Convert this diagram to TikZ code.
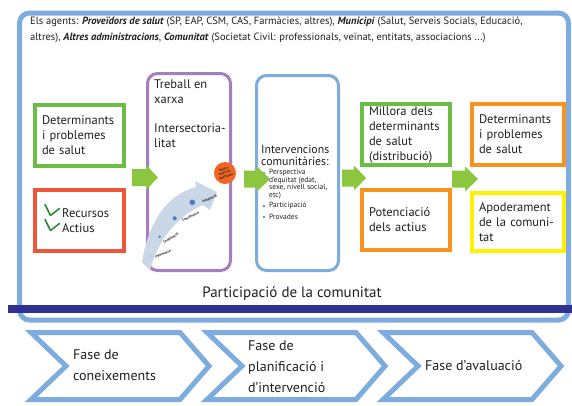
\documentclass[tikz,border=0pt]{standalone}
\usepackage{fontspec}
\setmainfont{PT Sans}
\definecolor{outerblue}{HTML}{7EACDF}
\definecolor{navyband}{HTML}{2E3192}
\definecolor{boxgreen}{HTML}{6BBD45}
\definecolor{arrowgreen}{HTML}{8CC63F}
\definecolor{boxred}{HTML}{EE553B}
\definecolor{boxorange}{HTML}{F7931E}
\definecolor{boxyellow}{HTML}{FFF100}
\definecolor{boxpurple}{HTML}{A77DC2}
\definecolor{checkgreen}{HTML}{2F8A3A}
\definecolor{txt}{HTML}{231F20}
\definecolor{curvearrow}{HTML}{C9D7E7}
\definecolor{dotblue}{HTML}{4A7EC2}
\definecolor{circorange}{HTML}{F26522}
\definecolor{bulletteal}{HTML}{4FA3A5}
\newcommand{\garrow}[4]{\fill[arrowgreen] (#1,#4-8.5) -- (#2,#4-8.5) -- (#2,#4-12.5) -- (#3,#4) -- (#2,#4+12.5) -- (#2,#4+8.5) -- (#1,#4+8.5) -- cycle;}
\begin{document}
\begin{tikzpicture}[x=1pt,y=-1pt,
  every node/.style={text=txt},
  cbox/.style={draw, line width=4pt, inner sep=0pt, align=left,
    font=\fontsize{12.5}{15}\selectfont},
  rbox/.style={draw, line width=3pt, inner sep=0pt, rounded corners=10pt},
  boxtext/.style={font=\fontsize{12.5}{15}\selectfont, align=left, inner sep=0pt},
  tiny/.style={font=\fontsize{3.6}{4}\selectfont\bfseries, inner sep=0pt},
  bul/.style={font=\fontsize{7.5}{7.5}\selectfont, align=left, inner sep=0pt, anchor=base west},
  chev/.style={draw=outerblue, line width=5pt, line join=miter},
  chevtext/.style={font=\fontsize{14}{21}\selectfont, align=left, inner sep=0pt, anchor=west}]
\useasboundingbox (0,0) rectangle (572,405);
\fill[white] (0,0) rectangle (572,405);

% outer frame
\node[draw=outerblue, line width=5pt, rounded corners=10pt, minimum width=549pt, minimum height=307pt, inner sep=0pt] (frame) at (294,166.5) {};

% header (base anchor = baseline of last line)
\node[anchor=base west, align=left, inner sep=0pt, font=\fontsize{10.5}{16}\selectfont] (head) at (30,40)
 {Els agents: \textbf{\textit{Proveïdors de salut}} (SP, EAP, CSM, CAS, Farmàcies, altres), \textbf{\textit{Municipi}} (Salut, Serveis Socials, Educació,\\
  altres), \textbf{\textit{Altres administracions}}, \textbf{\textit{Comunitat}} (Societat Civil: professionals, veïnat, entitats, associacions ...)};

% left column
\node[cbox, draw=boxgreen, minimum width=89pt, minimum height=61pt, text width=75pt] (det1) at (79.5,135.5) {Determinants\\i problemes\\de salut};
\node[cbox, draw=boxred, minimum width=89pt, minimum height=61pt] (rec) at (79.5,220.5) {};
\node[boxtext, anchor=west] (rectext) at (62,220.5) {Recursos\\Actius};
\draw[checkgreen, line width=1.6pt, line cap=round, line join=round] (45,204.5) -- (50.5,215.5) -- (59.5,208.5);
\draw[checkgreen, line width=1.6pt, line cap=round, line join=round] (45,219.5) -- (50.5,230.5) -- (59.5,223.5);

% purple column
\node[rbox, draw=boxpurple, minimum width=83pt, minimum height=197pt] (xarxa) at (189,172) {};
\node[boxtext, anchor=north west] (xarxatext) at (154,80) {Treball en\\xarxa\\[14pt]Intersectoria-\\litat};

% curved arrow
\fill[curvearrow] (142,262) .. controls (148,225) and (165,195) .. (196,187) -- (195,181) -- (217,192) -- (210,210) -- (203,205) .. controls (180,215) and (160,235) .. (150,270) -- cycle;
\fill[white, draw=dotblue!60, line width=0.3pt] (150.7,255.7) circle (1.2);
\fill[dotblue] (159.7,236.7) circle (1.3);
\fill[dotblue] (174.7,218.3) circle (2);
\fill[dotblue] (192.3,202.3) circle (2.8);
\node[tiny, rotate=22] (l1) at (163,254) {Informació};
\node[tiny, rotate=33] (l2) at (171,238.5) {Cooperació};
\node[tiny, rotate=25] (l3) at (190.5,216.7) {Coordinació};
\node[tiny, rotate=23] (l4) at (209.7,199) {Integració};
\node[circle, fill=circorange, minimum size=22pt, inner sep=0pt, align=center, rotate=20,
  font=\fontsize{3.3}{3.8}\selectfont\bfseries] (salut) at (225,173) {Salut a\\totes les\\polítiques};

% blue column
\node[rbox, draw=outerblue, minimum width=82pt, minimum height=195pt] (interv) at (297.5,173) {};
\node[font=\fontsize{11.8}{12}\selectfont, align=left, inner sep=0pt, anchor=base west] (intervt) at (261,165) {Intervencions\\comunitàries:};
\node[bul] (b1) at (269,197) {Perspectiva\\d’equitat (edat,\\sexe, nivell social,\\etc)};
\node[bul] (b2) at (269,207.5) {Participació};
\node[bul] (b3) at (269,219) {Provades};
\fill[bulletteal] (263.2,171.5) rectangle (265.4,173.7);
\fill[bulletteal] (263.2,204.5) rectangle (265.4,206.7);
\fill[bulletteal] (263.2,216) rectangle (265.4,218.2);

% third column
\node[cbox, draw=boxgreen, minimum width=88pt, minimum height=61pt, text width=74pt] (mill) at (406,134.5) {Millora dels\\determinants\\de salut\\(distribució)};
\node[cbox, draw=boxorange, minimum width=88pt, minimum height=60pt, text width=74pt] (pot) at (406,220) {Potenciació\\dels actius};

% fourth column
\node[cbox, draw=boxorange, minimum width=92pt, minimum height=61pt, text width=78pt] (det2) at (518,134.5) {Determinants\\i problemes\\de salut};
\node[cbox, draw=boxyellow, minimum width=92pt, minimum height=58pt, text width=78pt] (apod) at (518,222) {Apoderament\\de la comuni-\\tat};

% green arrows
\garrow{132}{146}{158}{177.5}
\garrow{244}{257}{270}{179}
\garrow{342}{354}{366}{178}
\garrow{452}{465}{478}{179}

% participation
\node[font=\fontsize{15}{18}\selectfont, inner sep=0pt] (part) at (292,294) {Participació de la comunitat};

% navy band
\fill[navyband] (8,305) rectangle (572,312.5);

% chevrons
\foreach \x in {28,204,380} {
  \draw[chev] (\x+3,332.5) -- (\x+152,332.5) -- (\x+181,366) -- (\x+152,399.5) -- (\x+3,399.5) -- (\x+38,366) -- cycle;
}
\node[chevtext] (c1) at (73,365) {Fase de\\coneixements};
\node[chevtext] (c2) at (248,367) {Fase de\\planificació i\\d’intervenció};
\node[chevtext] (c3) at (425,366) {Fase d’avaluació};
\end{tikzpicture}
\end{document}
